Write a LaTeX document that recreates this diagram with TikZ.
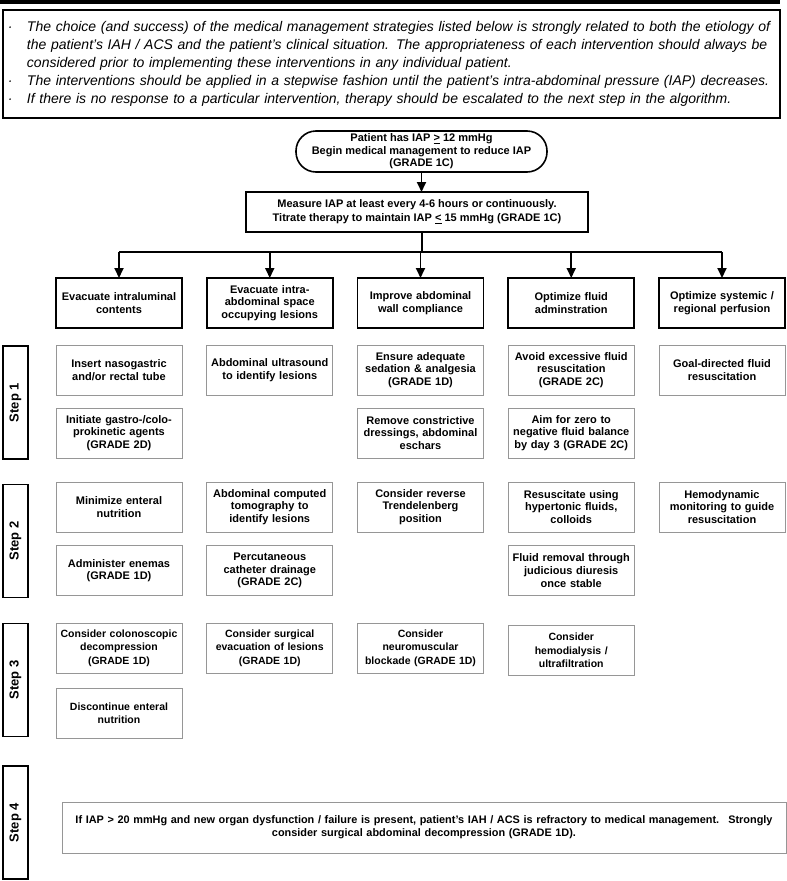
\documentclass[tikz,border=0pt]{standalone}
\usepackage{fontspec}
\setmainfont{Liberation Sans}
\usepackage{xcolor}
\usetikzlibrary{calc, positioning, arrows.meta}

\definecolor{itemgray}{RGB}{150,150,150}
\newcommand{\notedot}{\makebox[23pt][l]{\hspace{4pt}\textperiodcentered}}
\newcommand{\noteskip}{\hspace*{23pt}}
\hyphenpenalty=10000

\begin{document}
\begin{tikzpicture}[x=1pt,y=-1pt,node distance=150.75pt,
                    >={Triangle[length=10pt,width=9pt]},
                    conn/.style={line width=1.8pt},
                    every node/.style={outer sep=0pt},
                    item/.style={draw=itemgray,line width=0.8pt,minimum width=126pt,minimum height=50pt,
                      text width=122pt,inner sep=2pt,align=center,font=\fontsize{11}{12.7}\selectfont\bfseries},
                    lateitem/.style={item,font=\fontsize{10.5}{13.3}\selectfont\bfseries},
                    header/.style={item,draw=black,line width=1.6pt},
                    steplabel/.style={draw,line width=1.6pt,rotate=90,minimum width=113pt,minimum height=25pt,
                      inner sep=1pt,font=\fontsize{13}{15}\selectfont\bfseries}]

  \useasboundingbox (0,0) rectangle (787,881);
  \fill (0,0) rectangle (780,4);

  \node[draw,line width=1.2pt,anchor=north west,minimum width=777pt,minimum height=108pt,
        text width=775pt,inner xsep=1pt,align=left,font=\fontsize{14}{18}\selectfont\itshape] (note) at (3,10)
    {\notedot The choice (and success) of the medical management strategies listed below is strongly related to both the etiology of\\
     \noteskip the patient's IAH / ACS and the patient's clinical situation. The appropriateness of each intervention should always be\\
     \noteskip considered prior to implementing these interventions in any individual patient.\\
     \notedot The interventions should be applied in a stepwise fashion until the patient's intra-abdominal pressure (IAP) decreases.\\
     \notedot If there is no response to a particular intervention, therapy should be escalated to the next step in the algorithm.};

  \node[draw,line width=1.6pt,rounded corners=20pt,minimum width=251pt,minimum height=41pt,inner sep=1pt,
        align=center,font=\fontsize{11}{12.5}\selectfont\bfseries] (start) at (421.5,151.5)
    {Patient has IAP \underline{>} 12 mmHg\\Begin medical management to reduce IAP\\(GRADE 1C)};
  \node[draw,line width=1.8pt,minimum width=342pt,minimum height=40pt,inner sep=1pt,
        align=center,font=\fontsize{11}{14}\selectfont\bfseries] (measure) at (417,212)
    {Measure IAP at least every 4-6 hours or continuously.\\Titrate therapy to maintain IAP \underline{<} 15 mmHg (GRADE 1C)};

  % the five kinds of intervention
  \node[header] (lumen) at (119,303) {Evacuate intraluminal\\contents};
  \node[header] (space) [right of=lumen] {Evacuate intra-\\abdominal space\\occupying lesions};
  \node[header] (wall) [right of=space] {Improve abdominal\\wall compliance};
  \node[header] (fluid) [right of=wall] {Optimize fluid\\adminstration};
  \node[header] (perf) [right of=fluid] {Optimize systemic /\\regional perfusion};

  \node[steplabel] (step1) at (15.5,402.5) {Step 1};
  \node[steplabel] (step2) at (15.5,541) {Step 2};
  \node[steplabel] (step3) at (15.5,680) {Step 3};
  \node[steplabel] (step4) at (15.5,822.5) {Step 4};

  % step 1
  \node[item] (lumen1a) at (119,370) {Insert nasogastric\\and/or rectal tube};
  \node[item] (lumen1b) at (119,433) {Initiate gastro-/colo-\\prokinetic agents\\(GRADE 2D)};
  \node[item] (space1a) at (269.75,370) {Abdominal ultrasound\\to identify lesions};
  \node[item] (wall1a) at (420.5,370) {Ensure adequate\\sedation \& analgesia\\(GRADE 1D)};
  \node[item] (wall1b) at (420.5,433) {Remove constrictive\\dressings, abdominal\\eschars};
  \node[item] (fluid1a) at (571.25,370) {Avoid excessive fluid\\resuscitation\\(GRADE 2C)};
  \node[item] (fluid1b) at (571.25,433) {Aim for zero to\\negative fluid balance\\by day 3 (GRADE 2C)};
  \node[item] (perf1a) at (722,370) {Goal-directed fluid\\resuscitation};

  % step 2
  \node[item] (lumen2a) at (119,507) {Minimize enteral\\nutrition};
  \node[item] (lumen2b) at (119,570.5) {Administer enemas\\(GRADE 1D)};
  \node[item] (space2a) at (269.75,507) {Abdominal computed\\tomography to\\identify lesions};
  \node[item] (space2b) at (269.75,570.5) {Percutaneous\\catheter drainage\\(GRADE 2C)};
  \node[item] (wall2a) at (420.5,507) {Consider reverse\\Trendelenberg\\position};
  \node[item] (fluid2a) at (571.25,507) {Resuscitate using\\hypertonic fluids,\\colloids};
  \node[item] (fluid2b) at (571.25,570.5) {Fluid removal through\\judicious diuresis\\once stable};
  \node[item] (perf2a) at (722,507) {Hemodynamic\\monitoring to guide\\resuscitation};

  % step 3
  \node[lateitem] (lumen3a) at (119,648) {Consider colonoscopic\\decompression\\(GRADE 1D)};
  \node[lateitem] (lumen3b) at (119,713) {Discontinue enteral\\nutrition};
  \node[lateitem] (space3a) at (269.75,648) {Consider surgical\\evacuation of lesions\\(GRADE 1D)};
  \node[lateitem] (wall3a) at (420.5,648) {Consider\\neuromuscular\\blockade (GRADE 1D)};
  \node[lateitem] (fluid3a) at (571.25,650.5) {Consider\\hemodialysis /\\ultrafiltration};

  % step 4
  \node[item,minimum width=724pt,minimum height=51pt,text width=718pt,
        font=\fontsize{10.9}{13.3}\selectfont\bfseries] (surgery) at (424,827.5)
    {If IAP > 20 mmHg and new organ dysfunction / failure is present, patient's IAH / ACS is refractory to medical management.~ Strongly\\consider surgical abdominal decompression (GRADE 1D).};

  \coordinate (bus) at (422,252);
  \path[conn,->] (start) edge (start |- measure.north);
  \draw[conn] (measure.south -| bus) -- (bus);
  \draw[conn] (bus -| lumen) -- (bus -| perf);
  \path[conn,->] (bus -| lumen) edge (lumen)
                 (bus -| space) edge (space)
                 (bus -| wall) edge (wall)
                 (bus -| fluid) edge (fluid)
                 (bus -| perf) edge (perf);

\end{tikzpicture}
\end{document}
